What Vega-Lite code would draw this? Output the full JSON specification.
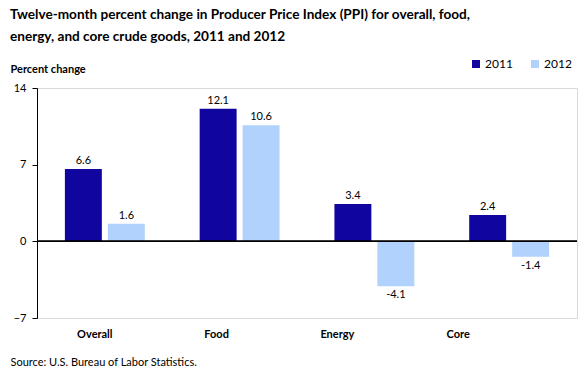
{
  "$schema": "https://vega.github.io/schema/vega-lite/v6.json",
  "width": 540,
  "height": 230,
  "autosize": "none",
  "padding": {"left": 37, "top": 88, "right": 3, "bottom": 57},
  "background": "white",
  "config": {
    "font": "Lato",
    "view": {"stroke": "#d9d9d9", "strokeWidth": 1}
  },
  "title": {
    "text": ["Twelve-month percent change in Producer Price Index (PPI)  for overall, food,", "energy, and core crude goods, 2011 and 2012"],
    "anchor": "start",
    "frame": "group",
    "dx": -27,
    "offset": 14,
    "font": "Lato",
    "fontSize": 13.6,
    "fontWeight": "bold",
    "color": "#000000",
    "lineHeight": 22
  },
  "data": {
    "values": [
      {"category": "Overall", "year": "2011", "value": 6.6},
      {"category": "Overall", "year": "2012", "value": 1.6},
      {"category": "Food", "year": "2011", "value": 12.1},
      {"category": "Food", "year": "2012", "value": 10.6},
      {"category": "Energy", "year": "2011", "value": 3.4},
      {"category": "Energy", "year": "2012", "value": -4.1},
      {"category": "Core", "year": "2011", "value": 2.4},
      {"category": "Core", "year": "2012", "value": -1.4}
    ]
  },
  "layer": [
    {
      "mark": {"type": "bar"},
      "encoding": {
        "x": {
          "field": "category", "type": "nominal",
          "sort": ["Overall", "Food", "Energy", "Core"],
          "scale": {"paddingInner": 0.407, "paddingOuter": 0.207},
          "axis": {
            "labelAngle": 0, "domain": false, "ticks": false,
            "labelPadding": 10, "labelFontSize": 11, "labelFontWeight": "bold", "labelColor": "#000000",
            "labelOffset": {
              "condition": [
                {"test": "datum.value === 'Overall'", "value": -10},
                {"test": "datum.value === 'Food'", "value": -23},
                {"test": "datum.value === 'Energy'", "value": -37}
              ],
              "value": -51
            },
            "title": "Source: U.S. Bureau of Labor Statistics.",
            "titleX": -27, "titleY": 47, "titleAnchor": "start", "titleAlign": "left", "titleBaseline": "alphabetic",
            "titleFontWeight": "normal", "titleFontSize": 11, "titleColor": "#000000"
          }
        },
        "xOffset": {"field": "year", "type": "nominal", "scale": {"paddingInner": 0.14}},
        "y": {
          "field": "value", "type": "quantitative",
          "scale": {"domain": [-7, 14], "nice": false, "zero": false},
          "axis": {
            "values": [-7, 0, 7, 14], "grid": false,
            "domainColor": "#000000", "tickColor": "#000000", "tickSize": 5,
            "labelPadding": 6, "labelFontSize": 11, "labelColor": "#000000",
            "title": "Percent change", "titleAngle": 0, "titleX": -27, "titleY": -16,
            "titleAlign": "left", "titleBaseline": "alphabetic", "titleAnchor": "start",
            "titleFontSize": 11, "titleFontWeight": "bold", "titleColor": "#000000"
          }
        },
        "color": {
          "field": "year", "type": "nominal",
          "scale": {"range": ["#10069F", "#B1D2FC"]},
          "legend": {
            "orient": "none", "legendX": 433, "legendY": -30, "direction": "horizontal",
            "title": null, "symbolType": "square", "symbolSize": 64, "symbolStrokeWidth": 0,
            "labelFontSize": 12, "labelColor": "#000000", "columnPadding": 16, "labelOffset": 3
          }
        }
      }
    },
    {
      "transform": [{"filter": "datum.value >= 0"}],
      "mark": {"type": "text", "baseline": "bottom", "dy": -3, "fontSize": 11, "color": "#000000"},
      "encoding": {
        "x": {"field": "category", "type": "nominal", "sort": ["Overall", "Food", "Energy", "Core"]},
        "xOffset": {"field": "year", "type": "nominal"},
        "y": {"field": "value", "type": "quantitative"},
        "text": {"field": "value", "type": "nominal"}
      }
    },
    {
      "transform": [{"filter": "datum.value < 0"}],
      "mark": {"type": "text", "baseline": "top", "dy": 3, "fontSize": 11, "color": "#000000"},
      "encoding": {
        "x": {"field": "category", "type": "nominal", "sort": ["Overall", "Food", "Energy", "Core"]},
        "xOffset": {"field": "year", "type": "nominal"},
        "y": {"field": "value", "type": "quantitative"},
        "text": {"field": "value", "type": "nominal"}
      }
    },
    {
      "mark": {"type": "rule", "color": "#000000", "strokeWidth": 1},
      "encoding": {"y": {"datum": 0}}
    }
  ]
}
